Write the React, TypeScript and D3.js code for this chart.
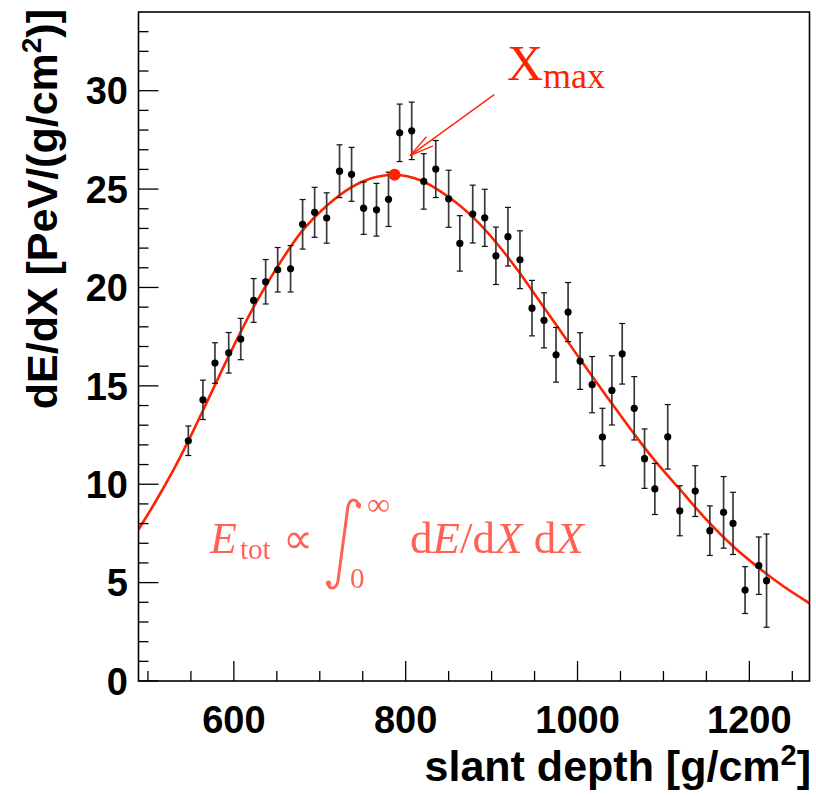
import React from "react";
import * as d3 from "d3";

// ---- data ----
const depth = [547, 564, 578, 594, 608, 623, 637, 651, 666, 680, 694, 708, 723, 737, 751, 766, 780, 793, 807, 821, 835, 850, 863, 878, 892, 905, 919, 933, 947, 961, 975, 989, 1003, 1017, 1029, 1040, 1052, 1066, 1078, 1090, 1105, 1119, 1137, 1154, 1170, 1181, 1195, 1211, 1220];
const dEdX = [12.21, 14.29, 16.16, 16.68, 17.38, 19.34, 20.29, 20.9, 20.95, 23.21, 23.82, 23.53, 25.91, 25.75, 24.03, 23.95, 24.48, 27.86, 27.96, 25.39, 26.02, 24.51, 22.24, 23.73, 23.54, 21.61, 22.58, 21.41, 18.95, 18.33, 16.58, 18.75, 16.26, 15.06, 12.4, 14.77, 16.63, 13.86, 11.3, 9.76, 12.41, 8.65, 9.65, 7.64, 8.57, 8.01, 4.62, 5.86, 5.1];
const dEdXErr = [0.75, 1.0, 1.03, 1.03, 1.05, 1.11, 1.13, 1.13, 1.18, 1.26, 1.27, 1.28, 1.34, 1.37, 1.33, 1.34, 1.38, 1.46, 1.46, 1.41, 1.45, 1.45, 1.41, 1.47, 1.45, 1.46, 1.49, 1.47, 1.41, 1.4, 1.39, 1.5, 1.44, 1.43, 1.46, 1.76, 1.54, 1.61, 1.51, 1.3, 1.64, 1.27, 1.29, 1.26, 1.82, 1.58, 1.19, 1.46, 2.37];

const fitDepth = [489, 510, 530, 547, 570, 595, 623, 650, 680, 708, 737, 760, 787, 817, 850, 880, 905, 930, 955, 980, 1003, 1035, 1066, 1090, 1119, 1150, 1181, 1211, 1240, 1270];
const fitValue = [7.7, 9.2, 10.75, 12.2, 14.3, 16.6, 19.0, 21.0, 22.9, 24.15, 25.1, 25.55, 25.73, 25.45, 24.6, 23.5, 22.3, 20.9, 19.35, 17.8, 16.35, 14.4, 12.55, 11.2, 9.75, 8.2, 6.85, 5.75, 4.8, 3.95];

const xmaxDepth = 787;
const xmaxValue = 25.73;

const xDomain = [489, 1270];
const yDomain = [0, 34];
const xMajorTicks = [600, 800, 1000, 1200];
const yMajorTicks = [0, 5, 10, 15, 20, 25, 30];

const xTitle = "slant depth [g/cm";
const yTitle = "dE/dX [PeV/(g/cm";

// annotation anchor points (data coords)
const arrowFrom = [903, 29.8];
const arrowTo = [805, 26.7];

const RED = "#ff2200";

export default function App() {
  const left = 138.5, right = 809.5, top = 12, bottom = 681;
  const x = d3.scaleLinear().domain(xDomain).range([left, right]);
  const y = d3.scaleLinear().domain(yDomain).range([bottom, top]);

  const xMinor = d3.range(500, 1270, 50).filter((v) => !xMajorTicks.includes(v));
  const yMinor = d3.range(1, 34, 1).filter((v) => v % 5 !== 0);

  const fitPts = fitDepth.map((d, i) => [d, fitValue[i]] as [number, number]);
  const line = d3
    .line<[number, number]>()
    .x((d) => x(d[0]))
    .y((d) => y(d[1]))
    .curve(d3.curveCatmullRom.alpha(0.5));

  const sans = "'Liberation Sans', Arial, Helvetica, sans-serif";
  const serif = "'Liberation Serif', 'Times New Roman', serif";

  // arrow geometry
  const ax0 = x(arrowFrom[0]), ay0 = y(arrowFrom[1]);
  const ax1 = x(arrowTo[0]), ay1 = y(arrowTo[1]);
  const ang = Math.atan2(ay0 - ay1, ax0 - ax1);
  const hl = 25, ha = (13 * Math.PI) / 180;
  const h1 = [ax1 + hl * Math.cos(ang - ha), ay1 + hl * Math.sin(ang - ha)];
  const h2 = [ax1 + hl * Math.cos(ang + ha), ay1 + hl * Math.sin(ang + ha)];

  return (
    <svg width={816} height={796} style={{ position: "absolute", left: 0, top: 0, background: "#fff" }}>
      <defs>
        <clipPath id="frameClip">
          <rect x={left} y={top} width={right - left} height={bottom - top} />
        </clipPath>
        <filter id="soft" x="-5%" y="-5%" width="110%" height="110%">
          <feGaussianBlur stdDeviation="0.6" />
        </filter>
      </defs>
      <rect x={0} y={0} width={816} height={796} fill="#fff" />

      {/* formula */}
      <g fill="#ff3b2b" opacity={0.8} filter="url(#soft)" fontFamily={serif}>
        <text x={210} y={553} fontSize={44} fontStyle="italic">E</text>
        <text x={240} y={559} fontSize={29}>tot</text>
        <text x={283} y={553} fontSize={42}>∝</text>
        <path d="M359,507 C358,499 351,497 348,506 L338,581 C336,590 329,590 328,583" fill="none" stroke="#ff3b2b" strokeWidth={3} strokeLinecap="round" />
        <circle cx={358.5} cy={505} r={2.6} />
        <circle cx={328.5} cy={583} r={2.6} />
        <text x={367} y={515} fontSize={32}>∞</text>
        <text x={350} y={588} fontSize={29}>0</text>
        <text x={410} y={553} fontSize={45}>
          d<tspan fontStyle="italic">E</tspan>/d<tspan fontStyle="italic">X</tspan> d<tspan fontStyle="italic">X</tspan>
        </text>
      </g>

      {/* fit curve */}
      <path d={line(fitPts) || ""} fill="none" stroke={RED} strokeWidth={2.6} clipPath="url(#frameClip)" />

      {/* error bars and points */}
      <g>
        {depth.map((d, i) => {
          const cx = x(d);
          const y1 = y(dEdX[i] + dEdXErr[i]);
          const y2 = y(dEdX[i] - dEdXErr[i]);
          return (
            <g key={i}>
              <line x1={cx} x2={cx} y1={y1} y2={y2} stroke="#3a3a3a" strokeWidth={1.7} />
              <line x1={cx - 3} x2={cx + 3} y1={y1} y2={y1} stroke="#111" strokeWidth={1.2} />
              <line x1={cx - 3} x2={cx + 3} y1={y2} y2={y2} stroke="#111" strokeWidth={1.2} />
              <circle cx={cx} cy={y(dEdX[i])} r={3.6} fill="#000" />
            </g>
          );
        })}
      </g>

      {/* Xmax marker */}
      <circle cx={x(xmaxDepth)} cy={y(xmaxValue)} r={6} fill={RED} />

      {/* arrow */}
      <g stroke={RED} strokeWidth={1.3} fill="none">
        <line x1={ax0} y1={ay0} x2={ax1} y2={ay1} />
        <line x1={ax1} y1={ay1} x2={h1[0]} y2={h1[1]} />
        <line x1={ax1} y1={ay1} x2={h2[0]} y2={h2[1]} />
      </g>
      <text x={507} y={80} fill={RED} fontFamily={serif} fontSize={50}>
        X<tspan fontSize={36} dy={8}>max</tspan>
      </text>

      {/* axes ticks */}
      <g stroke="#000" strokeWidth={1.3}>
        {xMajorTicks.map((t) => (
          <line key={"xM" + t} x1={x(t)} x2={x(t)} y1={bottom} y2={bottom - 20} />
        ))}
        {xMinor.map((t) => (
          <line key={"xm" + t} x1={x(t)} x2={x(t)} y1={bottom} y2={bottom - 10} />
        ))}
        {yMajorTicks.map((t) => (
          <line key={"yM" + t} x1={left} x2={left + 20} y1={y(t)} y2={y(t)} />
        ))}
        {yMinor.map((t) => (
          <line key={"ym" + t} x1={left} x2={left + 10} y1={y(t)} y2={y(t)} />
        ))}
      </g>

      {/* frame */}
      <rect x={left} y={top} width={right - left} height={bottom - top} fill="none" stroke="#000" strokeWidth={1.6} />

      {/* tick labels */}
      <g fontFamily={sans} fontWeight="bold" fontSize={38} fill="#000">
        {xMajorTicks.map((t) => (
          <text key={"xl" + t} x={x(t)} y={733} textAnchor="middle">{t}</text>
        ))}
        {yMajorTicks.map((t) => (
          <text key={"yl" + t} x={128} y={y(t)} dy="0.36em" textAnchor="end">{t}</text>
        ))}
      </g>

      {/* axis titles */}
      <text x={811} y={781} textAnchor="end" fontFamily={sans} fontWeight="bold" fontSize={43} fill="#000">
        {xTitle}
        <tspan fontSize={29} dy={-16}>2</tspan>
        <tspan dy={16}>]</tspan>
      </text>
      <text transform="translate(57,9) rotate(-90)" textAnchor="end" fontFamily={sans} fontWeight="bold" fontSize={43} fill="#000">
        {yTitle}
        <tspan fontSize={28} dy={-16}>2</tspan>
        <tspan dy={16}>)]</tspan>
      </text>
    </svg>
  );
}
